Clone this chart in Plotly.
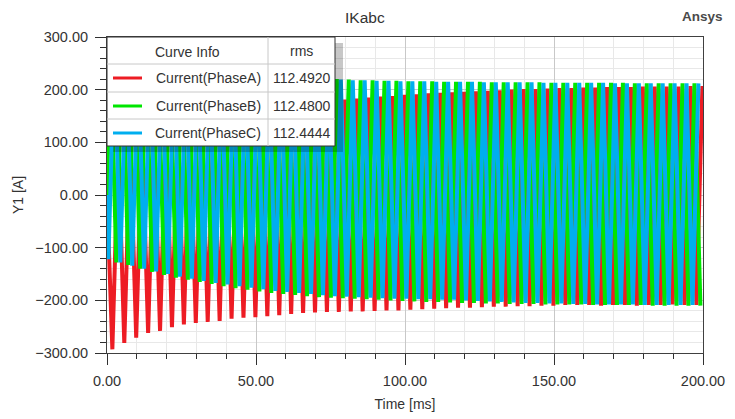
import plotly.graph_objects as go

# =========================================================
# DATA  (one value per cycle)
# =========================================================

period_ms = 4.0
red_first_trough_ms = 1.8
green_first_peak_ms = 1.13
blue_first_trough_ms = 0.47

red_troughs = [
    -293, -281, -271, -262, -258, -251, -246, -243, -241, -239,
    -235, -233, -232, -230, -228, -226, -224, -223, -222, -222,
    -221, -221, -220, -219, -219, -218, -217, -216, -215, -214,
    -214, -213, -212, -212, -211, -211, -210, -210, -209, -209,
    -209, -210, -209, -209, -210, -209, -209, -208, -209, -209,
]
red_peaks = [
    95, 105, 115, 123, 130, 136, 142, 147, 152, 156,
    160, 163, 166, 169, 171, 173, 175, 177, 179, 181,
    183, 185, 187, 188, 190, 191, 193, 194, 195, 196,
    197, 198, 199, 200, 201, 201, 202, 203, 203, 204,
    204, 205, 205, 205, 206, 206, 206, 206, 207, 207,
]
green_peaks = [
    282, 276, 270, 264, 259, 254, 250, 246, 243, 240,
    237, 234, 232, 230, 228, 226, 224, 223, 222, 220,
    219, 218, 218, 217, 217, 216, 216, 216, 215, 215,
    215, 215, 214, 214, 214, 214, 214, 213, 213, 213,
    213, 213, 213, 213, 212, 212, 212, 212, 212, 212,
]
green_troughs = [
    -128, -133, -140, -146, -152, -157, -161, -165, -169, -173,
    -177, -180, -183, -186, -188, -190, -192, -194, -195, -196,
    -197, -198, -199, -200, -201, -202, -203, -203, -204, -205,
    -205, -206, -206, -207, -207, -207, -208, -208, -208, -208,
    -209, -209, -209, -209, -209, -210, -210, -210, -210, -210,
]
blue_troughs = [
    -122, -128, -134, -140, -145, -150, -155, -159, -163, -167,
    -170, -173, -176, -179, -182, -184, -186, -188, -190, -192,
    -193, -194, -195, -196, -197, -197, -198, -198, -199, -199,
    -200, -201, -202, -203, -204, -205, -205, -206, -206, -207,
    -207, -208, -208, -208, -208, -209, -209, -209, -209, -209,
]
blue_peaks = [
    270, 265, 260, 255, 251, 247, 244, 241, 238, 235,
    233, 231, 229, 227, 225, 224, 222, 221, 220, 219,
    218, 218, 217, 217, 216, 216, 216, 215, 215, 215,
    215, 214, 214, 214, 214, 214, 213, 213, 213, 213,
    213, 213, 212, 212, 212, 212, 212, 212, 212, 212,
]

names = ["Current(PhaseA)", "Current(PhaseB)", "Current(PhaseC)"]
rms_values = ["112.4920", "112.4800", "112.4444"]
colors = ["#ed1c24", "#00e600", "#00aeef"]

y_ticks = [-300, -200, -100, 0, 100, 200, 300]
x_ticks = [0, 50, 100, 150, 200]


def zigzag(first_ms, first_vals, second_vals):
    # start at zero, then alternate extremes half a period apart
    t, v = [0.0], [0.0]
    for k, (a, b) in enumerate(zip(first_vals, second_vals)):
        t += [first_ms + k * period_ms, first_ms + k * period_ms + period_ms / 2]
        v += [a, b]
    return t, v


series = [
    zigzag(red_first_trough_ms, red_troughs, red_peaks),
    zigzag(green_first_peak_ms, green_peaks, green_troughs),
    zigzag(blue_first_trough_ms, blue_troughs, blue_peaks),
]

# =========================================================
# FIGURE
# =========================================================

FONT = "Liberation Sans, Arial, sans-serif"
# page body adds an 8px margin, so the figure is shrunk by that much
OFF = 8
W, H = 735 - OFF, 419 - OFF
L, R, T, B = 107, 703, 37, 353  # plot area in reference pixels


def px(x):
    return (x - L) / (R - L)


def py(y):
    return (B - y) / (B - T)


fig = go.Figure()
for (t, v), name, color in zip(series, names, colors):
    fig.add_trace(
        go.Scatter(x=t, y=v, mode="lines", name=name,
                   line=dict(color=color, width=4), hoverinfo="skip")
    )

axis_common = dict(
    automargin=False,
    showline=True,
    linecolor="#404040",
    linewidth=1,
    mirror=True,
    ticks="outside",
    ticklen=11,
    tickcolor="#303030",
    tickfont=dict(family=FONT, size=14.5, color="#333333"),
    ticklabelstandoff=4,
    gridcolor="#c8c8c8",
    zeroline=False,
)

fig.update_xaxes(
    range=[0, 200],
    tickvals=x_ticks,
    tickformat=".2f",
    title=dict(text="Time [ms]", font=dict(family=FONT, size=14, color="#333333"), standoff=10),
    minor=dict(dtick=10, ticklen=5, tickcolor="#303030", showgrid=True, gridcolor="#e8e8e8"),
    **axis_common,
)
fig.update_yaxes(
    range=[-300, 300],
    tickvals=y_ticks,
    tickformat=".2f",
    title=dict(text="Y1 [A]", font=dict(family=FONT, size=14, color="#333333"), standoff=8),
    minor=dict(dtick=20, ticklen=6, tickcolor="#303030", showgrid=True, gridcolor="#e8e8e8"),
    **axis_common,
)

# legend table drawn by hand
shapes = [
    dict(type="rect", x0=px(113), x1=px(343), y0=py(43), y1=py(152),
         fillcolor="rgba(0,0,0,0.22)", line=dict(width=0)),
    dict(type="rect", x0=px(107), x1=px(335), y0=py(37), y1=py(146),
         fillcolor="white", line=dict(color="#303030", width=1)),
    dict(type="line", x0=px(268), x1=px(268), y0=py(37), y1=py(146),
         line=dict(color="#c8c8c8", width=1)),
]
for yy in [64, 92, 119]:
    shapes.append(dict(type="line", x0=px(107), x1=px(335), y0=py(yy), y1=py(yy),
                       line=dict(color="#c8c8c8", width=1)))
row_y = [78, 106, 133]
for yy, color in zip(row_y, colors):
    shapes.append(dict(type="line", x0=px(113), x1=px(142), y0=py(yy), y1=py(yy),
                       line=dict(color=color, width=3)))
for s in shapes:
    s.update(xref="paper", yref="paper", layer="above")

text_font = dict(family=FONT, size=14, color="#333333")
annotations = [
    dict(x=px(187), y=py(52), text="Curve Info", xanchor="center"),
    dict(x=px(301), y=py(51), text="rms", xanchor="center"),
]
for yy, name, rms in zip(row_y, names, rms_values):
    annotations.append(dict(x=px(263), y=py(yy), text=name, xanchor="right"))
    annotations.append(dict(x=px(302), y=py(yy), text=rms, xanchor="center"))
for a in annotations:
    a.update(xref="paper", yref="paper", yanchor="middle", showarrow=False, font=text_font)

# titles sit just below the top of the figure (which starts 8px down the page)
annotations.append(dict(x=px(365), y=py(17), xref="paper", yref="paper", text="IKabc",
                        xanchor="center", yanchor="middle", showarrow=False,
                        font=dict(family=FONT, size=15.5, color="#333333")))
annotations.append(dict(x=px(702), y=py(16.5), xref="paper", yref="paper", text="<b>Ansys</b>",
                        xanchor="center", yanchor="middle", showarrow=False,
                        font=dict(family=FONT, size=13.5, color="#4a4a4a")))

fig.update_layout(
    width=W,
    height=H,
    margin=dict(l=L - OFF, r=735 - R, t=T - OFF, b=419 - B),
    paper_bgcolor="white",
    plot_bgcolor="white",
    showlegend=False,
    shapes=shapes,
    annotations=annotations,
    font=dict(family=FONT),
)

fig.write_html("out.html")
